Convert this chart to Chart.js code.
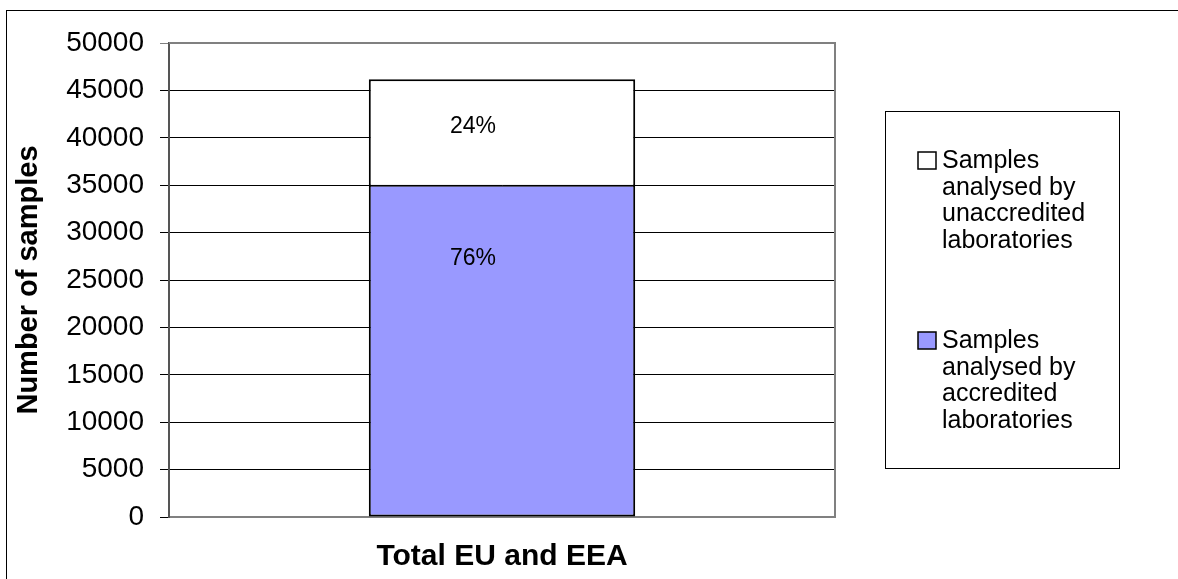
<!DOCTYPE html>
<html>
<head>
<meta charset="utf-8">
<script src="https://cdn.jsdelivr.net/npm/chart.js@4"></script>
<style>
  body { margin: 0; background: #fff; }
</style>
</head>
<body>
<canvas id="myChart" width="1178" height="579"></canvas>
<script>
// Stacked bar: samples by lab accreditation
const categories = ['Total EU and EEA']
const accredited = [34940]
const unaccredited = [11240]
const seriesNames = [
    ['Samples', 'analysed by', 'accredited', 'laboratories'],
    ['Samples', 'analysed by', 'unaccredited', 'laboratories']
]
const yTicks = [0, 5000, 10000, 15000, 20000, 25000, 30000, 35000, 40000, 45000, 50000]

const FONT = "'Liberation Sans', Arial, sans-serif"
const BLUE = '#9999FF'

// outer frame + plot frame (right/top edges in grey)
const frames = {
    id: 'frames',
    beforeDraw(chart) {
        const ctx = chart.ctx
        ctx.save()
        ctx.fillStyle = '#fff'
        ctx.fillRect(0, 0, chart.width, chart.height)
        ctx.strokeStyle = '#000'
        ctx.lineWidth = 1
        ctx.strokeRect(6.5, 10.5, chart.width + 20, chart.height + 20)
        ctx.restore()
    },
    afterDatasetsDraw(chart) {
        const a = chart.chartArea
        const ctx = chart.ctx
        ctx.save()
        ctx.strokeStyle = '#808080'
        ctx.lineWidth = 2
        ctx.beginPath()
        ctx.moveTo(a.left, a.top)
        ctx.lineTo(a.right, a.top)
        ctx.lineTo(a.right, a.bottom)
        ctx.stroke()
        ctx.restore()
    }
}

// percentage labels inside the bar
const pctLabels = {
    id: 'pctLabels',
    afterDatasetsDraw(chart, args, opts) {
        const ctx = chart.ctx
        const y = chart.scales.y
        const total = accredited[0] + unaccredited[0]
        const pcts = [accredited[0] / total, unaccredited[0] / total]
        ctx.save()
        ctx.font = '23px ' + FONT
        ctx.fillStyle = '#000'
        ctx.textAlign = 'center'
        ctx.textBaseline = 'middle'
        chart.data.datasets.forEach((ds, i) => {
            const bar = chart.getDatasetMeta(i).data[0]
            ctx.fillText(Math.round(pcts[i] * 100) + '%', bar.x + opts.dx, y.getPixelForValue(opts.anchors[i]))
        })
        ctx.restore()
    }
}

// boxed legend on the right, multi-line entries
const boxLegend = {
    id: 'boxLegend',
    afterDraw(chart) {
        const ctx = chart.ctx
        ctx.save()
        ctx.strokeStyle = '#000'
        ctx.lineWidth = 1
        ctx.strokeRect(885.5, 111.5, 234, 357)
        ctx.font = '25px ' + FONT
        ctx.textBaseline = 'middle'
        ctx.fillStyle = '#000'
        const order = [1, 0]
        order.forEach((di, k) => {
            const ds = chart.data.datasets[di]
            const top = 161 + k * 180
            ctx.fillStyle = ds.backgroundColor
            ctx.fillRect(918, top - 9, 18, 17)
            ctx.lineWidth = 1.5
            ctx.strokeStyle = '#000'
            ctx.strokeRect(918, top - 9, 18, 17)
            ctx.fillStyle = '#000'
            seriesNames[di].forEach((line, j) => {
                ctx.fillText(line, 942, top + j * 26.7)
            })
        })
        ctx.restore()
    }
}

const ctx = document.getElementById('myChart')
const myChart = new Chart(ctx, {
    type: 'bar',
    data: {
        labels: categories,
        datasets: [{
            label: seriesNames[0].join(' '),
            data: accredited,
            backgroundColor: BLUE,
            borderColor: '#000',
            borderWidth: { top: 1, left: 2, right: 2, bottom: 2 },
            borderSkipped: false
        }, {
            label: seriesNames[1].join(' '),
            data: unaccredited,
            backgroundColor: '#ffffff',
            borderColor: '#000',
            borderWidth: { top: 2, left: 2, right: 2, bottom: 1 },
            borderSkipped: false
        }]
    },
    options: {
        responsive: false,
        animation: false,
        layout: {
            padding: { left: 6, top: 43, right: 343, bottom: 6 }
        },
        datasets: {
            bar: { barPercentage: 0.4, categoryPercentage: 1 }
        },
        scales: {
            x: {
                stacked: true,
                afterFit: scale => { scale.height = 56 },
                grid: { display: false, drawTicks: false },
                border: { color: '#808080', width: 2 },
                ticks: {
                    color: '#000',
                    padding: 22,
                    font: { family: FONT, size: 30, weight: 'bold' }
                }
            },
            y: {
                stacked: true,
                min: 0,
                max: 50000,
                afterBuildTicks: scale => {
                    scale.ticks = yTicks.map(v => ({ value: v }))
                },
                afterFit: scale => { scale.width = 163 },
                grid: {
                    color: c => (c.tick && c.tick.value === 50000) ? '#808080' : '#000',
                    lineWidth: 1,
                    tickLength: 9
                },
                border: { color: '#555', width: 2 },
                ticks: {
                    color: '#000',
                    padding: 16,
                    callback: v => String(v),
                    font: { family: FONT, size: 28 }
                },
                title: {
                    display: true,
                    text: 'Number of samples',
                    color: '#000',
                    padding: { top: 6, bottom: 0 },
                    font: { family: FONT, size: 29, weight: 'bold' }
                }
            }
        },
        plugins: {
            legend: { display: false },
            tooltip: { enabled: false },
            pctLabels: { dx: -29, anchors: [27250, 41150] }
        }
    },
    plugins: [frames, pctLabels, boxLegend]
})
</script>
</body>
</html>
